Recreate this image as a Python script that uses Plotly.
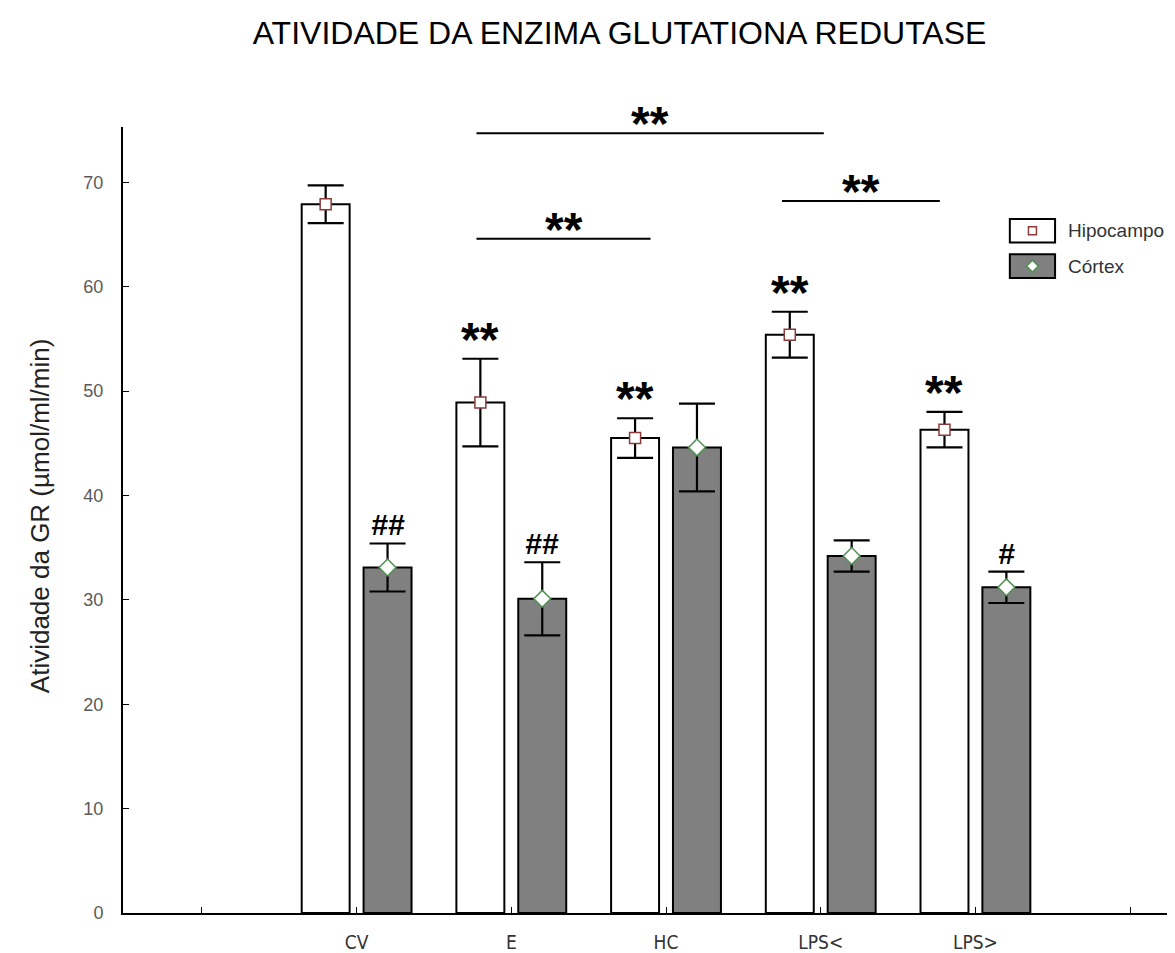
import plotly.graph_objects as go

# group labels and measured means / SEM (µmol/ml/min)
groups = ["CV", "E", "HC", "LPS&lt;", "LPS&gt;"]
hipocampo = [67.9, 48.9, 45.5, 55.4, 46.3]
hipocampo_err = [1.8, 4.2, 1.9, 2.2, 1.7]
cortex = [33.1, 30.1, 44.6, 34.2, 31.2]
cortex_err = [2.3, 3.5, 4.2, 1.5, 1.5]

# significance marks above each bar
hipocampo_sig = ["", "**", "**", "**", "**"]
cortex_sig = ["##", "##", "", "", "#"]

# comparisons drawn as horizontal bars: (from, to, level)
brackets = [(1.775, 4.02, 74.7), (3.75, 4.77, 68.2), (1.775, 2.90, 64.6)]

SANS = "Liberation Sans, Arial, sans-serif"
STAR_FONT = dict(family=SANS, size=48, color="black")
pos = list(range(1, len(groups) + 1))
shift = 0.2
bar_w = 0.31
x_hip = [p - shift for p in pos]
x_ctx = [p + shift for p in pos]

fig = go.Figure()

fig.add_bar(x=x_hip, y=hipocampo, width=bar_w, name="Hipocampo",
            marker=dict(color="white", line=dict(color="black", width=2)))
fig.add_bar(x=x_ctx, y=cortex, width=bar_w, name="Córtex",
            marker=dict(color="#808080", line=dict(color="black", width=2)))

# means with error bars
fig.add_scatter(x=x_hip, y=hipocampo, mode="markers",
                error_y=dict(type="data", array=hipocampo_err, color="black", thickness=2.2, width=18),
                marker=dict(symbol="square", size=11, color="white", line=dict(color="#8b3a3a", width=1.5)))
fig.add_scatter(x=x_ctx, y=cortex, mode="markers",
                error_y=dict(type="data", array=cortex_err, color="black", thickness=2.2, width=18),
                marker=dict(symbol="diamond", size=13, color="white", line=dict(color="#4f8f4f", width=1.5)))

annotations = []
for x, y, e, s in zip(x_hip, hipocampo, hipocampo_err, hipocampo_sig):
    if s:
        annotations.append(dict(x=x, y=y + e, text="<b>" + s + "</b>", showarrow=False, yanchor="bottom",
                                yshift=-9, font=STAR_FONT))
for x, y, e, s in zip(x_ctx, cortex, cortex_err, cortex_sig):
    if s:
        annotations.append(dict(x=x, y=y + e, text="<b><i>" + s + "</i></b>", showarrow=False,
                                yanchor="bottom", yshift=0,
                                font=dict(family=SANS, size=30, color="black")))

shapes = []
for x0, x1, lvl in brackets:
    shapes.append(dict(type="line", x0=x0, x1=x1, y0=lvl, y1=lvl, line=dict(color="black", width=2)))
    annotations.append(dict(x=(x0 + x1) / 2, y=lvl, text="<b>**</b>", showarrow=False, yanchor="bottom",
                            yshift=-19, font=STAR_FONT))

# legend drawn by hand: boxes, small symbols and labels
legend_items = [("Hipocampo", "white", 0.868), ("Córtex", "#808080", 0.823)]
for label, fill, ly in legend_items:
    shapes.append(dict(type="rect", xref="paper", yref="paper", x0=0.843, x1=0.886,
                       y0=ly - 0.015, y1=ly + 0.015, fillcolor=fill, line=dict(color="black", width=2)))
    annotations.append(dict(xref="paper", yref="paper", x=0.896, y=ly, text=label, showarrow=False,
                            xanchor="left", yanchor="middle", font=dict(family=SANS, size=19, color="#333333")))
shapes.append(dict(type="rect", xref="paper", yref="paper", xsizemode="pixel", ysizemode="pixel",
                   xanchor=0.8645, yanchor=0.868, x0=-4, x1=4, y0=-4, y1=4,
                   fillcolor="white", line=dict(color="#8b3a3a", width=1.5)))
shapes.append(dict(type="path", xref="paper", yref="paper", xsizemode="pixel", ysizemode="pixel",
                   xanchor=0.8645, yanchor=0.823, path="M -6 0 L 0 6 L 6 0 L 0 -6 Z",
                   fillcolor="white", line=dict(color="#4f8f4f", width=1.5)))

# y axis title
annotations.append(dict(xref="paper", yref="paper", x=-0.079, y=0.506, text="Atividade da GR (µmol/ml/min)",
                        textangle=-90, showarrow=False, xanchor="center", yanchor="middle",
                        font=dict(family=SANS, size=26, color="#222222")))

# the page body adds 8px around the figure, so the figure is 8px smaller
fig.update_layout(
    width=1167, height=945,
    margin=dict(l=115, r=0, t=119, b=40),
    paper_bgcolor="white", plot_bgcolor="white",
    showlegend=False,
    barmode="overlay",
    title=dict(text="ATIVIDADE DA ENZIMA GLUTATIONA REDUTASE", x=0.524, xref="container", xanchor="center",
               y=1 - 25 / 945, yanchor="middle",
               font=dict(family=SANS, size=32, color="black")),
    shapes=shapes,
    annotations=annotations,
)
fig.update_xaxes(range=[-0.51, 6.29], tickvals=list(range(0, 7)), ticktext=[""] + groups + [""],
                 showgrid=False, zeroline=False, showline=True, linecolor="black", linewidth=2,
                 ticks="inside", ticklen=6, tickcolor="black", ticklabelstandoff=11,
                 tickfont=dict(family="DejaVu Sans Condensed, DejaVu Sans", size=19, color="#333333"))
fig.update_yaxes(range=[0, 75.3], tickvals=list(range(0, 80, 10)),
                 showgrid=False, zeroline=False, showline=True, linecolor="black", linewidth=2,
                 ticks="inside", ticklen=6, tickcolor="black", ticklabelstandoff=14,
                 tickfont=dict(family=SANS, size=18, color="#5a5a5a"))

fig.write_html("out.html")
